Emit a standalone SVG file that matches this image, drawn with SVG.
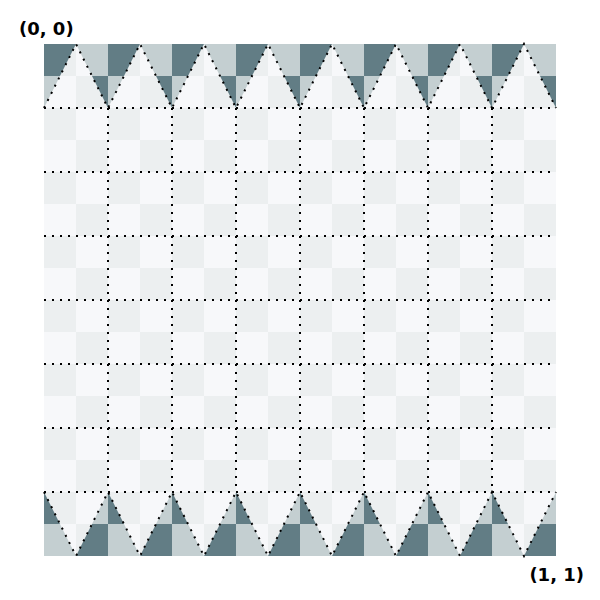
<svg xmlns="http://www.w3.org/2000/svg" width="600" height="600" viewBox="0 0 600 600">
<style>
.lbl{font-family:"DejaVu Sans",sans-serif;font-weight:bold;font-size:18px;fill:#000}
.dot{fill:none;stroke:#000;stroke-width:2;stroke-dasharray:2 6}
</style>
<defs>
<pattern id="base" patternUnits="userSpaceOnUse" x="44" y="44" width="64" height="64">
<rect width="64" height="64" fill="#f7f8fa"/>
<rect width="32" height="32" fill="#eceff0"/>
<rect x="32" y="32" width="32" height="32" fill="#eceff0"/>
</pattern>
<pattern id="dark" patternUnits="userSpaceOnUse" x="44" y="44" width="64" height="64">
<rect width="64" height="64" fill="#c4cfd1"/>
<rect width="32" height="32" fill="#627d85"/>
<rect x="32" y="32" width="32" height="32" fill="#627d85"/>
</pattern>
</defs>
<rect x="0" y="0" width="600" height="600" fill="#fff"/>
<g id="board">
<rect x="44" y="44" width="512" height="512" fill="url(#base)"/>
<rect x="44" y="44" width="512" height="64" fill="url(#dark)"/>
<rect x="44" y="492" width="512" height="64" fill="url(#dark)"/>
<polygon fill="url(#base)" points="44,108 76,44 108,108 140,44 172,108 204,44 236,108 268,44 300,108 332,44 364,108 396,44 428,108 460,44 492,108 524,44 556,108"/>
<polygon fill="url(#base)" points="44,492 76,556 108,492 140,556 172,492 204,556 236,492 268,556 300,492 332,556 364,492 396,556 428,492 460,556 492,492 524,556 556,492"/>
</g>
<g id="connectors">
<polyline class="dot" points="44,108 76,44 108,108 140,44 172,108 204,44 236,108 268,44 300,108 332,44 364,108 396,44 428,108 460,44 492,108 524,44 556,108"/>
<polyline class="dot" points="44,492 76,556 108,492 140,556 172,492 204,556 236,492 268,556 300,492 332,556 364,492 396,556 428,492 460,556 492,492 524,556 556,492"/>
<path class="dot" d="M44 108H556M44 172H556M44 236H556M44 300H556M44 364H556M44 428H556M44 492H556"/>
<path class="dot" d="M108 108V492M172 108V492M236 108V492M300 108V492M364 108V492M428 108V492M492 108V492"/>
</g>
<g id="labels">
<text class="lbl" x="19" y="35">(0, 0)</text>
<text class="lbl" x="584" y="581" text-anchor="end">(1, 1)</text>
</g>
</svg>
